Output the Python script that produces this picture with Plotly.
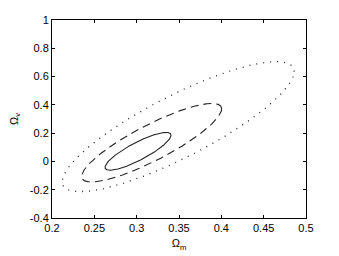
import numpy as np
import plotly.graph_objects as go

# Confidence contours: centre, half-extent in x / y, correlation
levels = ["1sigma", "2sigma", "3sigma"]
center_x = [0.3016, 0.3177, 0.349]
center_y = [0.0715, 0.1325, 0.246]
half_x = [0.039, 0.0827, 0.137]
half_y = [0.1335, 0.2775, 0.46]
rho = [0.85, 0.86, 0.845]
dashes = ["solid", "8px,5px", "1px,6px"]

x_ticks = [0.2, 0.25, 0.3, 0.35, 0.4, 0.45, 0.5]
x_tick_text = ["0.2", "0.25", "0.3", "0.35", "0.4", "0.45", "0.5"]
y_ticks = [-0.4, -0.2, 0, 0.2, 0.4, 0.6, 0.8, 1]
y_tick_text = ["-0.4", "-0.2", "0", "0.2", "0.4", "0.6", "0.8", "1"]

t = np.linspace(0, 2 * np.pi, 400)
fig = go.Figure()
for i, name in enumerate(levels):
    xs = center_x[i] + half_x[i] * np.cos(t)
    ys = center_y[i] + half_y[i] * (rho[i] * np.cos(t) + np.sqrt(1 - rho[i] ** 2) * np.sin(t))
    fig.add_trace(go.Scatter(x=xs, y=ys, mode="lines", name=name,
                             line=dict(color="#222222", width=1.1 if i < 2 else 1.3, dash=dashes[i]),
                             hoverinfo="skip", showlegend=False))

font = dict(family="Liberation Sans, Arial", size=11, color="black")
axis_common = dict(showgrid=False, zeroline=False, showline=True, linecolor="black",
                   linewidth=1, mirror="ticks", ticks="inside", ticklen=3,
                   tickcolor="black", tickfont=font, automargin=False)

fig.update_layout(
    width=331, height=248,
    margin=dict(l=44, r=33, t=12, b=38),
    paper_bgcolor="white", plot_bgcolor="white",
    xaxis=dict(range=[0.2, 0.5], tickvals=x_ticks, ticktext=x_tick_text,
               title=dict(text="Ω<sub>m</sub>", standoff=6, font=font),
               **axis_common),
    yaxis=dict(range=[-0.4, 1], tickvals=y_ticks, ticktext=y_tick_text,
               title=dict(text="Ω<sub>v</sub>", standoff=20, font=font),
               **axis_common),
)
fig.write_html("out.html")
